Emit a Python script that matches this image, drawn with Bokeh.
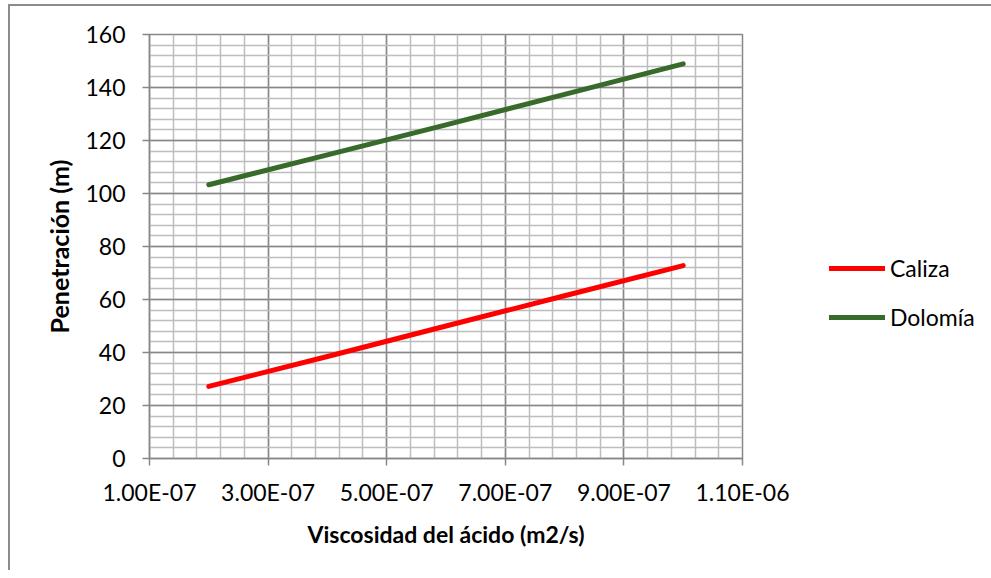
from bokeh.plotting import figure
from bokeh.models import Range1d, FixedTicker, CustomJSTickFormatter, Legend, LegendItem
from bokeh.embed import file_html
from bokeh.resources import INLINE

# ---- data ----
viscosidad = [2.0e-7, 4.0e-7, 6.0e-7, 8.0e-7, 1.0e-6]
caliza = [27.2, 38.5, 50.0, 61.4, 72.8]
dolomia = [103.3, 114.6, 125.9, 137.4, 148.9]
series_names = ["Caliza", "Dolomía"]
series_colors = ["#ff0000", "#386a2c"]

x_ticks = [1.0e-7, 3.0e-7, 5.0e-7, 7.0e-7, 9.0e-7, 1.1e-6]
x_minor = [1.0e-7 + 4.0e-8 * i for i in range(26)]
y_ticks = [0, 20, 40, 60, 80, 100, 120, 140, 160]
y_minor = list(range(0, 161, 4))

x_title = "Viscosidad del ácido (m2/s)"
y_title = "Penetración (m)"

FONT = "Lato"
GRID_MAJOR = "#878787"
GRID_MINOR = "#bdbdbd"

p = figure(frame_width=593, frame_height=424, output_backend="svg", toolbar_location=None,
           x_range=Range1d(1.0e-7, 1.1e-6), y_range=Range1d(0, 160),
           min_border_left=139, min_border_right=0, min_border_top=28,
           min_border_bottom=112)
p.styles = {"border-left": "2px solid #8c8c8c", "border-top": "2px solid #8c8c8c",
            "margin-left": "8px", "margin-top": "4px"}

p.outline_line_color = GRID_MAJOR
p.outline_line_width = 1.5
p.background_fill_color = "white"
p.border_fill_color = "white"

# axes
p.xaxis.ticker = FixedTicker(ticks=x_ticks, minor_ticks=x_minor)
p.yaxis.ticker = FixedTicker(ticks=y_ticks, minor_ticks=y_minor)
p.xaxis.formatter = CustomJSTickFormatter(code="""
    var s = tick.toExponential(2).toUpperCase();
    return s.replace(/E([+-])(\\d)$/, 'E$10$2');
""")

for ax in (p.xaxis, p.yaxis):
    ax.axis_line_color = GRID_MAJOR
    ax.axis_line_width = 1.5
    ax.major_tick_line_color = GRID_MAJOR
    ax.major_tick_line_width = 1.5
    ax.major_tick_out = 7
    ax.major_tick_in = 0
    ax.minor_tick_line_color = None
    ax.major_label_text_font = FONT
    ax.major_label_text_font_size = "23px"
    ax.major_label_text_color = "#000000"
    ax.axis_label_text_font = FONT
    ax.axis_label_text_font_style = "bold"
    ax.axis_label_text_color = "#000000"

p.xaxis.axis_label_text_font_size = "23px"
p.yaxis.axis_label_text_font_size = "25px"
p.xaxis.axis_label = x_title
p.yaxis.axis_label = y_title
p.xaxis.major_label_standoff = 12
p.yaxis.major_label_standoff = 17
p.xaxis.axis_label_standoff = 11
p.yaxis.axis_label_standoff = 8

# grid
for g in (p.xgrid, p.ygrid):
    g.grid_line_color = GRID_MAJOR
    g.grid_line_width = 1.5
    g.minor_grid_line_color = GRID_MINOR
    g.minor_grid_line_width = 1.5

# lines
r1 = p.line(viscosidad, caliza, line_color=series_colors[0], line_width=5,
            line_cap="round", line_join="round")
r2 = p.line(viscosidad, dolomia, line_color=series_colors[1], line_width=5,
            line_cap="round", line_join="round")

legend = Legend(items=[LegendItem(label=series_names[0], renderers=[r1]),
                       LegendItem(label=series_names[1], renderers=[r2])],
                location=(87, 127), orientation="vertical")
legend.padding = 0
legend.margin = 0
legend.spacing = 21
legend.glyph_width = 56
legend.glyph_height = 28
legend.label_height = 28
legend.label_standoff = 5
legend.label_text_font = FONT
legend.label_text_font_size = "23px"
legend.label_text_color = "#000000"
legend.border_line_color = None
legend.background_fill_alpha = 0
p.add_layout(legend, "right")

open("out.html", "w").write(file_html(p, INLINE))
